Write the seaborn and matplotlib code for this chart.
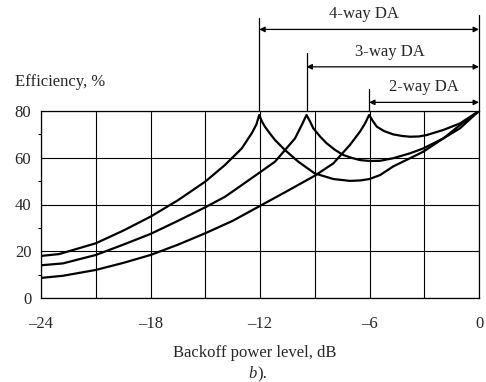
import numpy as np
import pandas as pd
import matplotlib
matplotlib.use("Agg")
import matplotlib.pyplot as plt
import seaborn as sns

# ---- data ----
x_4way = [-24, -23, -21, -19.5, -18, -16.5, -15, -13.92, -13, -12.45, -12.2, -12.04,
          -11.9, -11.73, -11.45, -11.18, -10.63, -9.9, -9, -7.98, -7.07, -6.5, -6,
          -5.42, -4.7, -3.78, -3.05, -1.95, -1.04, 0]
y_4way = [18, 18.8, 23.4, 28.8, 34.8, 41.8, 49.8, 56.9, 64, 70.5, 74.2, 78.3,
          75.6, 73.3, 70.3, 67.6, 63.3, 58.3, 53.3, 50.9, 50.1, 50.3, 50.9,
          52.6, 56.3, 59.8, 62.6, 68.3, 74, 80]

x_3way = [-24, -22.8, -21, -19.5, -18, -16.5, -15, -13.92, -13, -12.09, -11.18,
          -10.63, -10.08, -9.7, -9.45, -9.25, -9.08, -8.7, -8.35, -7.9, -7.44,
          -7.0, -6.52, -5.97, -5.42, -4.7, -3.78, -3.05, -1.95, -1.04, 0]
y_3way = [14, 14.8, 18.4, 22.8, 27.4, 33, 38.8, 43.3, 48.3, 53.3, 58.3,
          63.3, 68.3, 74.2, 78.3, 75.4, 72.6, 69.0, 66.2, 63.4, 61.2,
          60.0, 59, 58.6, 58.7, 59.8, 61.9, 64, 68.3, 72.6, 80]

x_2way = [-24, -22.8, -21, -19.5, -18, -16.5, -15, -13.5, -12, -10.5, -9,
          -7.98, -7.07, -6.52, -6.25, -6.02, -5.8, -5.6, -5.2, -4.7, -4.2, -3.78,
          -3.3, -2.87, -1.95, -1.04, 0]
y_2way = [8.6, 9.5, 12, 15, 18.4, 22.8, 27.7, 33, 39.4, 45.8, 52.3,
          57.6, 65.5, 71.2, 74.6, 78.3, 75.5, 73.3, 71.4, 70, 69.3, 69,
          69.1, 69.7, 71.9, 74.7, 80]

series_names = ["4-way DA", "3-way DA", "2-way DA"]
peak_db = [-12.04, -9.45, -6.02]
x_ticks = [-24, -21, -18, -15, -12, -9, -6, -3, 0]
x_tick_labels = ["\u201324", "", "\u201318", "", "\u201312", "", "\u20136", "", "0"]
y_ticks = [0, 20, 40, 60, 80]

df = pd.concat([
    pd.DataFrame({"dB": x_4way, "eff": y_4way, "s": "4-way DA"}),
    pd.DataFrame({"dB": x_3way, "eff": y_3way, "s": "3-way DA"}),
    pd.DataFrame({"dB": x_2way, "eff": y_2way, "s": "2-way DA"}),
])

sns.set_style("white")
plt.rcParams["font.family"] = ["Liberation Serif", "DejaVu Serif"]
plt.rcParams["font.size"] = 12

fig = plt.figure(figsize=(4.86, 3.82), dpi=100)
ax = fig.add_axes([41 / 486, 1 - 298 / 382, 438 / 486, 187 / 382])

for name in series_names:
    sub = df[df["s"] == name]
    sns.lineplot(data=sub, x="dB", y="eff", ax=ax, color="black",
                 linewidth=1.6, sort=False, estimator=None, legend=False,
                 zorder=3)

ax.set_xlim(-24, 0)
ax.set_ylim(0, 80)
ax.set_xticks(x_ticks)
ax.set_xticklabels(x_tick_labels)
ax.set_yticks(y_ticks)
ax.set_yticks([10, 30, 50, 70], minor=True)
ax.tick_params(axis="x", which="major", direction="out", length=6, width=0.8,
               pad=7, labelsize=12, color="black")
ax.tick_params(axis="y", which="major", direction="out", length=5, width=0.8,
               pad=2, labelsize=12, color="black")
ax.tick_params(axis="y", which="minor", direction="out", length=2.5,
               width=0.8, color="black", left=True)
ax.grid(True, which="major", color="black", linewidth=0.8)
for sp in ax.spines.values():
    sp.set_color("black")
    sp.set_linewidth(0.9)
ax.set_xlabel("")
ax.set_ylabel("")

# range markers above the plot
line_tops = [119.7, 104.7, 89.4]
arrow_y = [114.9, 98.9, 83.7]
text_pos = [(-6.3, 121.3), (-4.9, 105.3), (-3.0, 90.4)]
for pk, top, ay, (tx, ty), name in zip(peak_db, line_tops, arrow_y, text_pos,
                                        series_names):
    ax.plot([pk, pk], [80, top], color="black", linewidth=0.9, clip_on=False)
    ax.annotate("", xy=(0, ay), xytext=(pk, ay),
                arrowprops=dict(arrowstyle="<|-|>", color="black", lw=0.9,
                                mutation_scale=8, shrinkA=0, shrinkB=0),
                annotation_clip=False)
    ax.text(tx, ty, name, ha="center", va="center", fontsize=12)
ax.plot([0, 0], [80, 121.1], color="black", linewidth=0.9, clip_on=False)

fig.text(15 / 486, 1 - 82 / 382, "Efficiency, %", ha="left", va="center",
         fontsize=12)
fig.text(255 / 486, 1 - 353 / 382, "Backoff power level, dB", ha="center",
         va="center", fontsize=12)
fig.text(257 / 486, 1 - 374 / 382, "b", ha="right", va="center", fontsize=12,
         style="italic")
fig.text(257 / 486, 1 - 374 / 382, ").", ha="left", va="center", fontsize=12)

fig.savefig("out.png", dpi=100)
